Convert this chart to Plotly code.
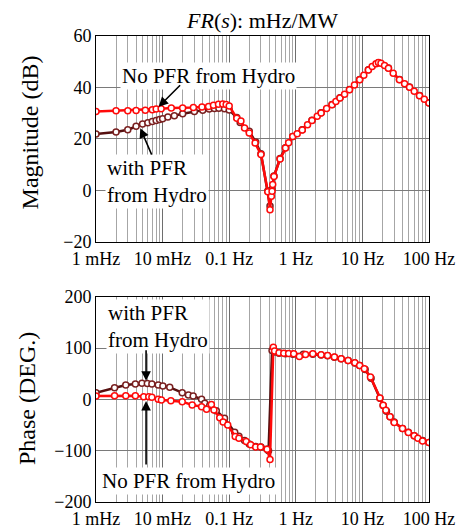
import plotly.graph_objects as go

# ---------------- data ----------------
# Magnitude, No PFR from Hydro
f_mag_no = [0.001, 0.002, 0.003, 0.004, 0.0055, 0.007, 0.008, 0.0095, 0.0135, 0.02,
            0.029, 0.039, 0.049, 0.058, 0.069, 0.08, 0.09, 0.1, 0.13, 0.15, 0.17, 0.2,
            0.245, 0.3, 0.38, 0.41, 0.43, 0.44, 0.45, 0.47, 0.58, 0.7, 0.78, 0.9, 1.05,
            1.25, 1.5, 1.75, 2.1, 2.4, 2.9, 3.5, 4.0, 4.6, 5.4, 6.4, 7.6, 9.1, 10.5,
            12.3, 14.0, 16.0, 17.4, 19.0, 21.5, 24.6, 29.0, 36.0, 43.0, 51.0, 60.0,
            72.0, 85.0, 100.0]
mag_no = [30.7, 31.0, 31.0, 31.1, 31.2, 31.4, 31.6, 31.7, 32.0, 32.0,
          32.2, 32.4, 32.6, 33.1, 33.5, 33.6, 33.4, 32.8, 28.1, 27.0, 24.3, 22.3,
          18.4, 14.0, -0.5, -7.5, -2.2, -0.3, 2.3, 5.4, 12.2, 16.5, 18.5, 21.0, 22.0,
          23.5, 25.5, 27.2, 28.8, 30.1, 31.8, 33.3, 34.6, 35.9, 37.4, 39.1, 41.0, 43.0, 44.8,
          46.8, 48.2, 49.2, 49.7, 49.4, 48.5, 47.5, 45.5, 43.0, 41.5, 40.1, 38.5,
          36.8, 35.4, 34.0]

# Magnitude, with PFR from Hydro
f_mag_with = [0.001, 0.002, 0.003, 0.004, 0.005, 0.006, 0.007, 0.008, 0.009, 0.01,
              0.012, 0.015, 0.02, 0.03, 0.04, 0.05, 0.06, 0.07, 0.085, 0.1, 0.13,
              0.146, 0.2, 0.25, 0.3, 0.38, 0.41, 0.44, 0.47, 0.58, 0.7, 0.9, 1.25,
              1.75, 2.4, 3.5, 4.6, 6.4, 9.1, 12.3, 17.4, 24.6, 36.0, 51.0, 72.0, 100.0]
mag_with = [21.9, 22.7, 23.6, 24.9, 25.8, 26.3, 26.8, 27.2, 27.6, 27.9,
            28.5, 29.0, 29.8, 30.7, 31.2, 31.6, 31.8, 31.9, 31.7, 31.3, 28.3,
            26.4, 23.0, 18.8, 14.3, -0.2, -6.0, 0.5, 5.6, 12.4, 16.6, 21.0, 23.6,
            27.3, 30.2, 33.4, 36.0, 39.2, 43.1, 46.9, 49.6, 47.6, 43.1, 40.2, 36.9, 34.1]

# Phase, No PFR from Hydro
f_ph_no = [0.001, 0.0019, 0.0028, 0.0039, 0.0052, 0.0062, 0.0069, 0.0086, 0.0096,
           0.0133, 0.0197, 0.0278, 0.0385, 0.0457, 0.054, 0.059, 0.072, 0.081, 0.095,
           0.123, 0.14, 0.18, 0.21, 0.25, 0.295, 0.37, 0.41, 0.46, 0.48, 0.56, 0.66,
           0.78, 0.93, 1.13, 1.4, 1.8, 2.4, 3.0, 3.8, 4.8, 6.1, 7.7, 9.1, 10.7, 13.2,
           18.3, 20.5, 22.5, 26.0, 30.0, 40.0, 49.0, 60.0, 68.0, 80.0, 100.0]
ph_no = [6.4, 7.0, 7.0, 7.0, 5.2, 5.0, 4.0, 0.0, -1.3,
         -2.6, -4.5, -11.0, -14.2, -19.5, -10.0, -21.0, -36.0, -44.0, -50.0,
         -72.5, -75.8, -82.0, -88.5, -93.0, -93.0, -97.0, -117.0, 101.7, 94.0, 90.7, 90.0,
         89.5, 88.8, 83.7, 87.5, 88.8, 86.8, 85.5, 82.3, 79.0, 75.8, 71.3, 66.0, 59.8, 43.6,
         2.6, -11.6, -21.3, -34.0, -45.0, -56.7, -64.5, -71.0, -76.0, -81.0, -84.0]

# Phase, with PFR from Hydro
f_ph_with = [0.001, 0.0019, 0.0028, 0.0039, 0.0049, 0.0059, 0.0069, 0.0086, 0.0101,
             0.0128, 0.0197, 0.0244, 0.0288, 0.0385, 0.043, 0.051, 0.064, 0.085, 0.121,
             0.14, 0.17, 0.2, 0.25, 0.3, 0.37, 0.39, 0.44, 0.48, 0.56, 0.7, 0.9, 1.3,
             1.8, 2.4, 3.0, 3.8, 4.8, 6.1, 7.7, 9.1, 11.0, 13.5, 18.3, 20.5, 23.0, 26.0,
             30.0, 40.0, 49.0, 60.0, 80.0, 100.0]
ph_with = [13.0, 22.7, 27.9, 29.8, 31.2, 31.0, 29.8, 27.9, 26.0,
           23.4, 13.0, 8.4, 6.4, 0.0, -7.8, -12.0, -22.0, -37.0, -64.0,
           -72.0, -80.0, -87.0, -92.0, -93.0, -97.0, -100.0, 95.0, 92.0, 90.0, 89.0, 88.0, 87.6,
           88.0, 86.5, 85.0, 82.0, 79.0, 75.5, 71.0, 66.0, 58.0, 41.0, 2.0, -12.0, -23.0, -34.0,
           -44.0, -57.0, -64.0, -71.0, -80.0, -84.0]

x_tickvals = [0.001, 0.01, 0.1, 1, 10, 100]
x_ticktext = ["1 mHz", "10 mHz", "0.1 Hz", "1 Hz", "10 Hz", "100 Hz"]
mag_ticks = [-20, 0, 20, 40, 60]
ph_ticks = [-200, -100, 0, 100, 200]

# ---------------- styling ----------------
FONT = "Liberation Serif, Times New Roman, serif"
RED = "#ff0a0a"
DARK = "#561010"
DARK_MK = "#7a2020"

fig = go.Figure()


def add_curve(x, y, xa, ya, color, mkcolor):
    fig.add_trace(go.Scatter(
        x=x, y=y, xaxis=xa, yaxis=ya, mode="lines+markers",
        line=dict(color=color, width=2.5),
        marker=dict(symbol="circle", size=6, color="white",
                    line=dict(color=mkcolor, width=1.5)),
        showlegend=False, hoverinfo="skip"))


add_curve(f_mag_with, mag_with, "x", "y", DARK, DARK_MK)
add_curve(f_mag_no, mag_no, "x", "y", RED, RED)
add_curve(f_ph_with, ph_with, "x2", "y2", DARK, DARK_MK)
add_curve(f_ph_no, ph_no, "x2", "y2", RED, RED)

minor_vals = [k * 10.0 ** e for e in range(-3, 2) for k in range(2, 10)]

xaxis_common = dict(
    type="log", range=[-3, 2], tickvals=x_tickvals, ticktext=x_ticktext,
    showgrid=True, gridcolor="#6e6e6e", gridwidth=1,
    minor=dict(tickvals=minor_vals, showgrid=True, gridcolor="#a6a6a6", gridwidth=1, ticks=""),
    showline=True, linecolor="black", linewidth=1, mirror=True,
    ticks="", tickfont=dict(family=FONT, size=18, color="black"),
    zeroline=False, automargin=False,
)
yaxis_common = dict(
    showgrid=True, gridcolor="#7a7a7a", gridwidth=1,
    showline=True, linecolor="black", linewidth=1, mirror=True,
    ticks="", tickfont=dict(family=FONT, size=18, color="black"),
    zeroline=False, automargin=False,
)

# page body adds an 8px offset, so the figure is 8px smaller with 8px less left/top margin
fig.update_layout(
    width=457, height=521,
    margin=dict(l=88, r=36, t=28, b=27, autoexpand=False),
    paper_bgcolor="white", plot_bgcolor="white",
    font=dict(family=FONT, color="black"),
    showlegend=False,
    xaxis=dict(domain=[0, 1], anchor="y", **xaxis_common),
    yaxis=dict(domain=[0.558, 1], anchor="x", range=[-20, 60], tickvals=mag_ticks, **yaxis_common),
    xaxis2=dict(domain=[0, 1], anchor="y2", **xaxis_common),
    yaxis2=dict(domain=[0, 0.4406], anchor="x2", range=[-200, 200], tickvals=ph_ticks, **yaxis_common),
)

ann = []
# title
ann.append(dict(text="<i>FR</i>(<i>s</i>): mHz/MW", x=0.4985, y=1.0322, xref="paper", yref="paper",
                xanchor="center", yanchor="middle", showarrow=False,
                font=dict(family=FONT, size=22, color="black")))
# axis titles
ann.append(dict(text="Magnitude (dB)", x=0, y=0.793, xref="paper", yref="paper", xshift=-66,
                xanchor="center", yanchor="middle", textangle=-90, showarrow=False,
                font=dict(family=FONT, size=24, color="black")))
ann.append(dict(text="Phase (DEG.)", x=0, y=0.221, xref="paper", yref="paper", xshift=-69,
                xanchor="center", yanchor="middle", textangle=-90, showarrow=False,
                font=dict(family=FONT, size=24, color="black")))

txt_font = dict(family=FONT, size=21, color="black")
# top plot labels
ann.append(dict(text="No PFR from Hydro", x=-2.635, y=44.5, xref="x", yref="y",
                xanchor="left", yanchor="middle", showarrow=False, bgcolor="white",
                font=txt_font))
ann.append(dict(text="with PFR<br>from Hydro", x=-2.86, y=3.5, xref="x", yref="y",
                xanchor="left", yanchor="middle", align="left", showarrow=False,
                bgcolor="white", font=txt_font))
ann.append(dict(text="", x=-2.06, y=32.5, xref="x", yref="y", showarrow=True,
                ax=23, ay=-23, arrowhead=2, arrowsize=1.2, arrowwidth=1.6, arrowcolor="black"))
ann.append(dict(text="", x=-2.335, y=24.2, xref="x", yref="y", showarrow=True,
                ax=12, ay=28, arrowhead=2, arrowsize=1.2, arrowwidth=1.6, arrowcolor="black"))
# bottom plot labels
ann.append(dict(text="with PFR<br>from Hydro", x=-2.846, y=142, xref="x2", yref="y2",
                xanchor="left", yanchor="middle", align="left", showarrow=False,
                bgcolor="white", font=txt_font))
ann.append(dict(text="No PFR from Hydro", x=-2.936, y=-158.6, xref="x2", yref="y2",
                xanchor="left", yanchor="middle", showarrow=False, bgcolor="white",
                font=txt_font))
ann.append(dict(text="", x=-2.248, y=36, xref="x2", yref="y2", showarrow=True,
                ax=0, ay=-32, arrowhead=2, arrowsize=1.2, arrowwidth=1.6, arrowcolor="black"))
ann.append(dict(text="", x=-2.248, y=-3, xref="x2", yref="y2", showarrow=True,
                ax=0, ay=65, arrowhead=2, arrowsize=1.2, arrowwidth=1.6, arrowcolor="black"))

fig.update_layout(annotations=ann)

fig.write_html("out.html")
